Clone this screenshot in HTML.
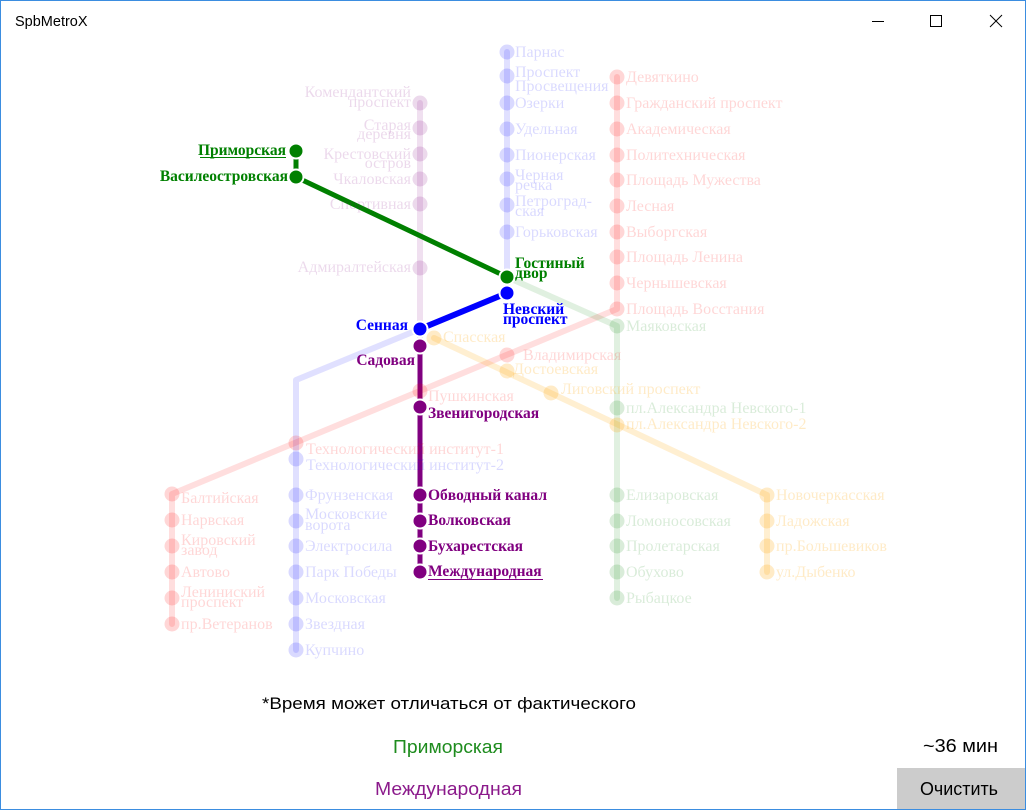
<!DOCTYPE html>
<html>
<head>
<meta charset="utf-8">
<style>
html,body{margin:0;padding:0;background:#fff;}
body{width:1026px;height:810px;overflow:hidden;position:relative;}
svg{position:absolute;left:0;top:0;}
.s{font-family:"Liberation Serif","Noto Serif CJK SC",serif;font-size:16px;}
.h{font-family:"Liberation Serif","Noto Serif CJK SC",serif;font-size:15.5px;font-weight:bold;}
.ui{font-family:"Liberation Sans","Noto Sans CJK SC",sans-serif;}
.fr{fill:#f00;fill-opacity:.16}
.fb{fill:#00f;fill-opacity:.15}
.fg{fill:#008000;fill-opacity:.15}
.fo{fill:#ffa500;fill-opacity:.22}
.fp{fill:#800080;fill-opacity:.15}
</style>
</head>
<body>
<svg width="1026" height="810" viewBox="0 0 1026 810" xmlns="http://www.w3.org/2000/svg">
<rect x="0" y="0" width="1026" height="810" fill="#fff"/>
<!-- window border -->
<rect x="0.5" y="0.5" width="1025" height="809" fill="none" stroke="#3b8de0" stroke-width="1"/>
<!-- title bar -->
<text class="ui" x="15" y="26" font-size="14.5" fill="#000">SpbMetroX</text>
<line x1="872" y1="21.5" x2="884" y2="21.5" stroke="#000" stroke-width="1"/>
<rect x="930.5" y="15.5" width="11" height="11" fill="none" stroke="#000" stroke-width="1"/>
<line x1="990" y1="15" x2="1002" y2="27" stroke="#000" stroke-width="1"/>
<line x1="1002" y1="15" x2="990" y2="27" stroke="#000" stroke-width="1"/>

<!-- faded lines -->
<g fill="none" stroke-width="6" stroke-linecap="round" stroke-linejoin="round">
<path d="M420,103 V346" stroke="#800080" stroke-opacity=".12"/>
<path d="M507,52 V293" stroke="#00f" stroke-opacity=".12"/>
<path d="M420,329 L296,380 V650" stroke="#00f" stroke-opacity=".12"/>
<path d="M617,77 V309 L172,494 V624" stroke="#f00" stroke-opacity=".13"/>
<path d="M507,277 L617,326 V598" stroke="#008000" stroke-opacity=".12"/>
<path d="M434,338 L767,495 V572" stroke="#ffa500" stroke-opacity=".18"/>
</g>

<!-- highlighted lines -->
<g fill="none" stroke-linecap="butt">
<path d="M296,151 V177 L507,277" stroke="#008000" stroke-width="5"/>
<path d="M507,293 L420,329" stroke="#0000ff" stroke-width="6"/>
<path d="M420,346 V572" stroke="#800080" stroke-width="5"/>
</g>

<!-- faded dots -->
<g>
<circle cx="420" cy="103" r="7.5" class="fp"/>
<circle cx="420" cy="128" r="7.5" class="fp"/>
<circle cx="420" cy="154" r="7.5" class="fp"/>
<circle cx="420" cy="179" r="7.5" class="fp"/>
<circle cx="420" cy="204" r="7.5" class="fp"/>
<circle cx="420" cy="268" r="7.5" class="fp"/>
<circle cx="507" cy="52" r="7.5" class="fb"/>
<circle cx="507" cy="76" r="7.5" class="fb"/>
<circle cx="507" cy="103" r="7.5" class="fb"/>
<circle cx="507" cy="129" r="7.5" class="fb"/>
<circle cx="507" cy="155" r="7.5" class="fb"/>
<circle cx="507" cy="179" r="7.5" class="fb"/>
<circle cx="507" cy="205" r="7.5" class="fb"/>
<circle cx="507" cy="232" r="7.5" class="fb"/>
<circle cx="296" cy="459" r="7.5" class="fb"/>
<circle cx="296" cy="495" r="7.5" class="fb"/>
<circle cx="296" cy="521" r="7.5" class="fb"/>
<circle cx="296" cy="546" r="7.5" class="fb"/>
<circle cx="296" cy="572" r="7.5" class="fb"/>
<circle cx="296" cy="598" r="7.5" class="fb"/>
<circle cx="296" cy="624" r="7.5" class="fb"/>
<circle cx="296" cy="650" r="7.5" class="fb"/>
<circle cx="617" cy="77" r="7.5" class="fr"/>
<circle cx="617" cy="103" r="7.5" class="fr"/>
<circle cx="617" cy="129" r="7.5" class="fr"/>
<circle cx="617" cy="155" r="7.5" class="fr"/>
<circle cx="617" cy="180" r="7.5" class="fr"/>
<circle cx="617" cy="206" r="7.5" class="fr"/>
<circle cx="617" cy="232" r="7.5" class="fr"/>
<circle cx="617" cy="257" r="7.5" class="fr"/>
<circle cx="617" cy="283" r="7.5" class="fr"/>
<circle cx="617" cy="309" r="7.5" class="fr"/>
<circle cx="507" cy="355" r="7.5" class="fr"/>
<circle cx="420" cy="391" r="7.5" class="fr"/>
<circle cx="296" cy="443" r="7.5" class="fr"/>
<circle cx="172" cy="494" r="7.5" class="fr"/>
<circle cx="172" cy="520" r="7.5" class="fr"/>
<circle cx="172" cy="546" r="7.5" class="fr"/>
<circle cx="172" cy="572" r="7.5" class="fr"/>
<circle cx="172" cy="598" r="7.5" class="fr"/>
<circle cx="172" cy="624" r="7.5" class="fr"/>
<circle cx="617" cy="326" r="7.5" class="fg"/>
<circle cx="617" cy="408" r="7.5" class="fg"/>
<circle cx="617" cy="495" r="7.5" class="fg"/>
<circle cx="617" cy="521" r="7.5" class="fg"/>
<circle cx="617" cy="546" r="7.5" class="fg"/>
<circle cx="617" cy="572" r="7.5" class="fg"/>
<circle cx="617" cy="598" r="7.5" class="fg"/>
<circle cx="434" cy="338" r="7.5" class="fo"/>
<circle cx="507" cy="371" r="7.5" class="fo"/>
<circle cx="551" cy="393" r="7.5" class="fo"/>
<circle cx="617" cy="425" r="7.5" class="fo"/>
<circle cx="767" cy="495" r="7.5" class="fo"/>
<circle cx="767" cy="521" r="7.5" class="fo"/>
<circle cx="767" cy="546" r="7.5" class="fo"/>
<circle cx="767" cy="572" r="7.5" class="fo"/>
</g>

<!-- highlighted dots -->
<g stroke="#fff" stroke-width="2">
<circle cx="296" cy="151" r="7.5" fill="#008000"/>
<circle cx="296" cy="177" r="7.5" fill="#008000"/>
<circle cx="507" cy="277" r="7.5" fill="#008000"/>
<circle cx="507" cy="293" r="7.5" fill="#0000ff"/>
<circle cx="420" cy="329" r="7.5" fill="#0000ff"/>
<circle cx="420" cy="346" r="7.5" fill="#800080"/>
<circle cx="420" cy="407" r="7.5" fill="#800080"/>
<circle cx="420" cy="495" r="7.5" fill="#800080"/>
<circle cx="420" cy="521" r="7.5" fill="#800080"/>
<circle cx="420" cy="546" r="7.5" fill="#800080"/>
<circle cx="420" cy="572" r="7.5" fill="#800080"/>
</g>

<!-- faded labels: purple (right aligned) -->
<g class="s fp" text-anchor="end">
<text x="411" y="97">Комендантский</text>
<text x="411" y="107">проспект</text>
<text x="411" y="130">Старая</text>
<text x="411" y="139">деревня</text>
<text x="411" y="159">Крестовский</text>
<text x="411" y="168">остров</text>
<text x="411" y="184">Чкаловская</text>
<text x="411" y="209">Спортивная</text>
<text x="411" y="272">Адмиралтейская</text>
</g>
<g class="s fb">
<text x="515" y="57">Парнас</text>
<text x="515" y="77">Проспект</text>
<text x="515" y="91">Просвещения</text>
<text x="515" y="108">Озерки</text>
<text x="515" y="134">Удельная</text>
<text x="515" y="160">Пионерская</text>
<text x="515" y="180">Черная</text>
<text x="515" y="190">речка</text>
<text x="515" y="206">Петроград-</text>
<text x="515" y="216">ская</text>
<text x="515" y="237">Горьковская</text>
<text x="306" y="470">Технологический институт-2</text>
<text x="305" y="500">Фрунзенская</text>
<text x="305" y="519">Московские</text>
<text x="305" y="530">ворота</text>
<text x="305" y="551">Электросила</text>
<text x="305" y="577">Парк Победы</text>
<text x="305" y="603">Московская</text>
<text x="305" y="629">Звездная</text>
<text x="305" y="655">Купчино</text>
</g>
<g class="s fr">
<text x="626" y="82">Девяткино</text>
<text x="626" y="108">Гражданский проспект</text>
<text x="626" y="134">Академическая</text>
<text x="626" y="160">Политехническая</text>
<text x="626" y="185">Площадь Мужества</text>
<text x="626" y="211">Лесная</text>
<text x="626" y="237">Выборгская</text>
<text x="626" y="262">Площадь Ленина</text>
<text x="626" y="288">Чернышевская</text>
<text x="626" y="314">Площадь Восстания</text>
<text x="523" y="360">Владимирская</text>
<text x="428" y="401">Пушкинская</text>
<text x="306" y="454">Технологический институт-1</text>
<text x="181" y="503">Балтийская</text>
<text x="181" y="525">Нарвская</text>
<text x="181" y="545">Кировский</text>
<text x="181" y="555">завод</text>
<text x="181" y="577">Автово</text>
<text x="181" y="597">Лениниский</text>
<text x="181" y="607">проспект</text>
<text x="181" y="629">пр.Ветеранов</text>
</g>
<g class="s fg">
<text x="626" y="331">Маяковская</text>
<text x="626" y="413">пл.Александра Невского-1</text>
<text x="626" y="500">Елизаровская</text>
<text x="626" y="526">Ломоносовская</text>
<text x="626" y="551">Пролетарская</text>
<text x="626" y="577">Обухово</text>
<text x="626" y="603">Рыбацкое</text>
</g>
<g class="s fo">
<text x="443" y="342">Спасская</text>
<text x="513" y="374">Достоевская</text>
<text x="561" y="394">Лиговский проспект</text>
<text x="626" y="429">пл.Александра Невского-2</text>
<text x="776" y="500">Новочеркасская</text>
<text x="776" y="526">Ладожская</text>
<text x="776" y="551">пр.Большевиков</text>
<text x="776" y="577">ул.Дыбенко</text>
</g>

<!-- highlighted labels -->
<g class="h">
<text x="286" y="155" text-anchor="end" fill="#008000">Приморская</text>
<line x1="200" y1="157.5" x2="286" y2="157.5" stroke="#008000" stroke-width="1"/>
<text x="288" y="181" text-anchor="end" fill="#008000">Василеостровская</text>
<text x="515" y="268" fill="#008000">Гостиный</text>
<text x="515" y="278" fill="#008000">двор</text>
<text x="503" y="314" fill="#0000ff">Невский</text>
<text x="503" y="324" fill="#0000ff">проспект</text>
<text x="408" y="330" text-anchor="end" fill="#0000ff">Сенная</text>
<text x="415" y="365" text-anchor="end" fill="#800080">Садовая</text>
<text x="428" y="418" fill="#800080">Звенигородская</text>
<text x="428" y="500" fill="#800080">Обводный канал</text>
<text x="428" y="525" fill="#800080">Волковская</text>
<text x="428" y="551" fill="#800080">Бухарестская</text>
<text x="428" y="576" fill="#800080">Международная</text>
<line x1="428" y1="579.5" x2="543" y2="579.5" stroke="#800080" stroke-width="1"/>
</g>

<!-- bottom panel -->
<text class="ui" x="262" y="709" font-size="17" fill="#000" textLength="374" lengthAdjust="spacingAndGlyphs">*Время может отличаться от фактического</text>
<text class="ui" x="393" y="753" font-size="18" fill="#1e8c1e" textLength="110" lengthAdjust="spacingAndGlyphs">Приморская</text>
<text class="ui" x="375" y="795" font-size="18" fill="#8b1a8b" textLength="147" lengthAdjust="spacingAndGlyphs">Международная</text>
<text class="ui" x="923" y="752" font-size="18" fill="#000" textLength="75" lengthAdjust="spacingAndGlyphs">~36 мин</text>
<rect x="897" y="768" width="128" height="41" fill="#cccccc"/>
<text class="ui" x="920" y="795" font-size="18" fill="#000" textLength="78" lengthAdjust="spacingAndGlyphs">Очистить</text>
<line x1="0" y1="809.5" x2="1026" y2="809.5" stroke="#3b8de0" stroke-width="1"/>
</svg>
</body>
</html>
